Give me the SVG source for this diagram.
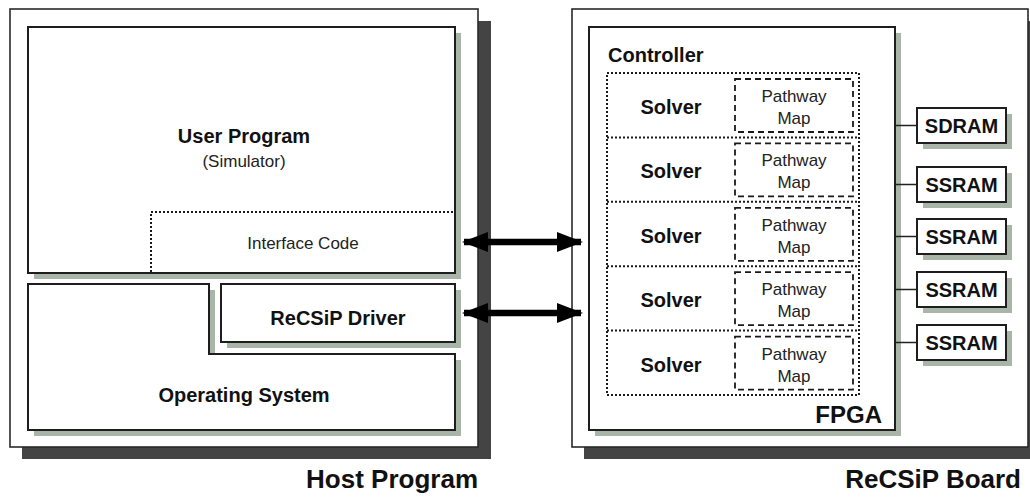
<svg xmlns="http://www.w3.org/2000/svg" width="1030" height="497" viewBox="0 0 1030 497">
  <style>
    .bg { fill: #ffffff; }
    .outer { fill: #ffffff; stroke: #2a2a2a; stroke-width: 1.6; }
    .box { fill: #ffffff; stroke: #1e1e1e; stroke-width: 2; }
    .hard { fill: #444444; }
    .soft { fill: #aab5a9; }
    .dot { fill: none; stroke: #1a1a1a; stroke-width: 2; stroke-dasharray: 2 2; }
    .dash { fill: none; stroke: #1a1a1a; stroke-width: 1.8; stroke-dasharray: 6 4; }
    .wire { stroke: #222; stroke-width: 1.6; fill: none; }
    .b20 { font-family: "Liberation Sans", Arial, sans-serif; font-weight: bold; font-size: 20px; fill: #111; }
    .r17 { font-family: "Liberation Sans", Arial, sans-serif; font-size: 17px; fill: #222; }
    .cap { font-family: "Liberation Sans", Arial, sans-serif; font-weight: bold; font-size: 26px; fill: #111; }
    .mid { text-anchor: middle; }
    .end { text-anchor: end; }
    .arrow { stroke: #000; stroke-width: 6.5; fill: none; }
  </style>
  <defs>
    <marker id="head" viewBox="0 0 26 20" refX="24" refY="10" markerWidth="26" markerHeight="20" markerUnits="userSpaceOnUse" orient="auto-start-reverse">
      <path d="M0 0 L26 10 L0 20 Z" fill="#000"/>
    </marker>
  </defs>

  <rect class="bg" x="0" y="0" width="1030" height="497"/>

  <!-- Host side -->
  <g id="host">
    <rect class="hard" x="22" y="21" width="469" height="438"/>
    <rect class="outer" x="10" y="9" width="468" height="438"/>
    <text class="cap end" x="478" y="488">Host Program</text>
  </g>

  <g id="user-program">
    <rect class="soft" x="34" y="33" width="427" height="246"/>
    <rect class="box" x="28" y="27" width="427" height="246"/>
    <text class="b20 mid" x="244" y="143">User Program</text>
    <text class="r17 mid" x="244" y="167">(Simulator)</text>
  </g>

  <g id="interface-code">
    <path class="dot" d="M151 272 V212 H454"/>
    <text class="r17 mid" x="303" y="249">Interface Code</text>
  </g>

  <g id="operating-system">
    <path class="soft" d="M34 290 H215 V360 H461 V436 H34 Z"/>
    <path class="box" d="M28 284 H209 V354 H455 V430 H28 Z"/>
    <text class="b20 mid" x="244" y="402">Operating System</text>
  </g>

  <g id="recsip-driver">
    <rect class="soft" x="227" y="290" width="234" height="58"/>
    <rect class="box" x="221" y="284" width="234" height="58"/>
    <text class="b20 mid" x="338" y="325">ReCSiP Driver</text>
  </g>

  <!-- Board side -->
  <g id="board">
    <rect class="hard" x="584" y="21" width="458" height="438"/>
    <rect class="outer" x="572" y="9" width="456" height="438"/>
    <text class="cap end" x="1021" y="488">ReCSiP Board</text>
  </g>

  <g id="fpga">
    <rect class="soft" x="595" y="33" width="306" height="403"/>
    <rect class="box" x="589" y="27" width="306" height="403"/>
    <text class="b20" x="608" y="62">Controller</text>
    <text class="b20 end" x="882" y="423" style="font-size:24px">FPGA</text>
    <rect class="dot" x="607" y="73" width="252" height="322"/>
    <path class="dot" d="M607 137.4 H859 M607 201.8 H859 M607 266.2 H859 M607 330.6 H859"/>
  </g>

  <g id="solver-1">
    <text class="b20 mid" x="671" y="114">Solver</text>
    <rect class="dash" x="735" y="79" width="118" height="53"/>
    <text class="r17 mid" x="794" y="102">Pathway</text>
    <text class="r17 mid" x="794" y="124">Map</text>
  </g>
  <g id="solver-2">
    <text class="b20 mid" x="671" y="178.4">Solver</text>
    <rect class="dash" x="735" y="143.4" width="118" height="53"/>
    <text class="r17 mid" x="794" y="166.4">Pathway</text>
    <text class="r17 mid" x="794" y="188.4">Map</text>
  </g>
  <g id="solver-3">
    <text class="b20 mid" x="671" y="242.8">Solver</text>
    <rect class="dash" x="735" y="207.8" width="118" height="53"/>
    <text class="r17 mid" x="794" y="230.8">Pathway</text>
    <text class="r17 mid" x="794" y="252.8">Map</text>
  </g>
  <g id="solver-4">
    <text class="b20 mid" x="671" y="307.2">Solver</text>
    <rect class="dash" x="735" y="272.2" width="118" height="53"/>
    <text class="r17 mid" x="794" y="295.2">Pathway</text>
    <text class="r17 mid" x="794" y="317.2">Map</text>
  </g>
  <g id="solver-5">
    <text class="b20 mid" x="671" y="371.6">Solver</text>
    <rect class="dash" x="735" y="336.6" width="118" height="53"/>
    <text class="r17 mid" x="794" y="359.6">Pathway</text>
    <text class="r17 mid" x="794" y="381.6">Map</text>
  </g>

  <!-- Memory chips -->
  <g id="sdram">
    <rect class="soft" x="923" y="114" width="89" height="35"/>
    <rect class="box" x="917" y="108" width="89" height="35"/>
    <text class="b20 mid" x="961.5" y="133">SDRAM</text>
  </g>
  <g id="ssram-1">
    <rect class="soft" x="923" y="173" width="89" height="35"/>
    <rect class="box" x="917" y="167" width="89" height="35"/>
    <text class="b20 mid" x="961.5" y="192">SSRAM</text>
  </g>
  <g id="ssram-2">
    <rect class="soft" x="923" y="225" width="89" height="35"/>
    <rect class="box" x="917" y="219" width="89" height="35"/>
    <text class="b20 mid" x="961.5" y="244">SSRAM</text>
  </g>
  <g id="ssram-3">
    <rect class="soft" x="923" y="278" width="89" height="35"/>
    <rect class="box" x="917" y="272" width="89" height="35"/>
    <text class="b20 mid" x="961.5" y="297">SSRAM</text>
  </g>
  <g id="ssram-4">
    <rect class="soft" x="923" y="331" width="89" height="35"/>
    <rect class="box" x="917" y="325" width="89" height="35"/>
    <text class="b20 mid" x="961.5" y="350">SSRAM</text>
  </g>

  <!-- Connectors -->
  <g id="connectors">
    <path class="wire" d="M896 125.5 H917 M896 184.5 H917 M896 236.5 H917 M896 289.5 H917 M896 342.5 H917"/>
    <line class="arrow" x1="464" y1="242" x2="581" y2="242" marker-start="url(#head)" marker-end="url(#head)"/>
    <line class="arrow" x1="464" y1="313" x2="581" y2="313" marker-start="url(#head)" marker-end="url(#head)"/>
  </g>
</svg>
